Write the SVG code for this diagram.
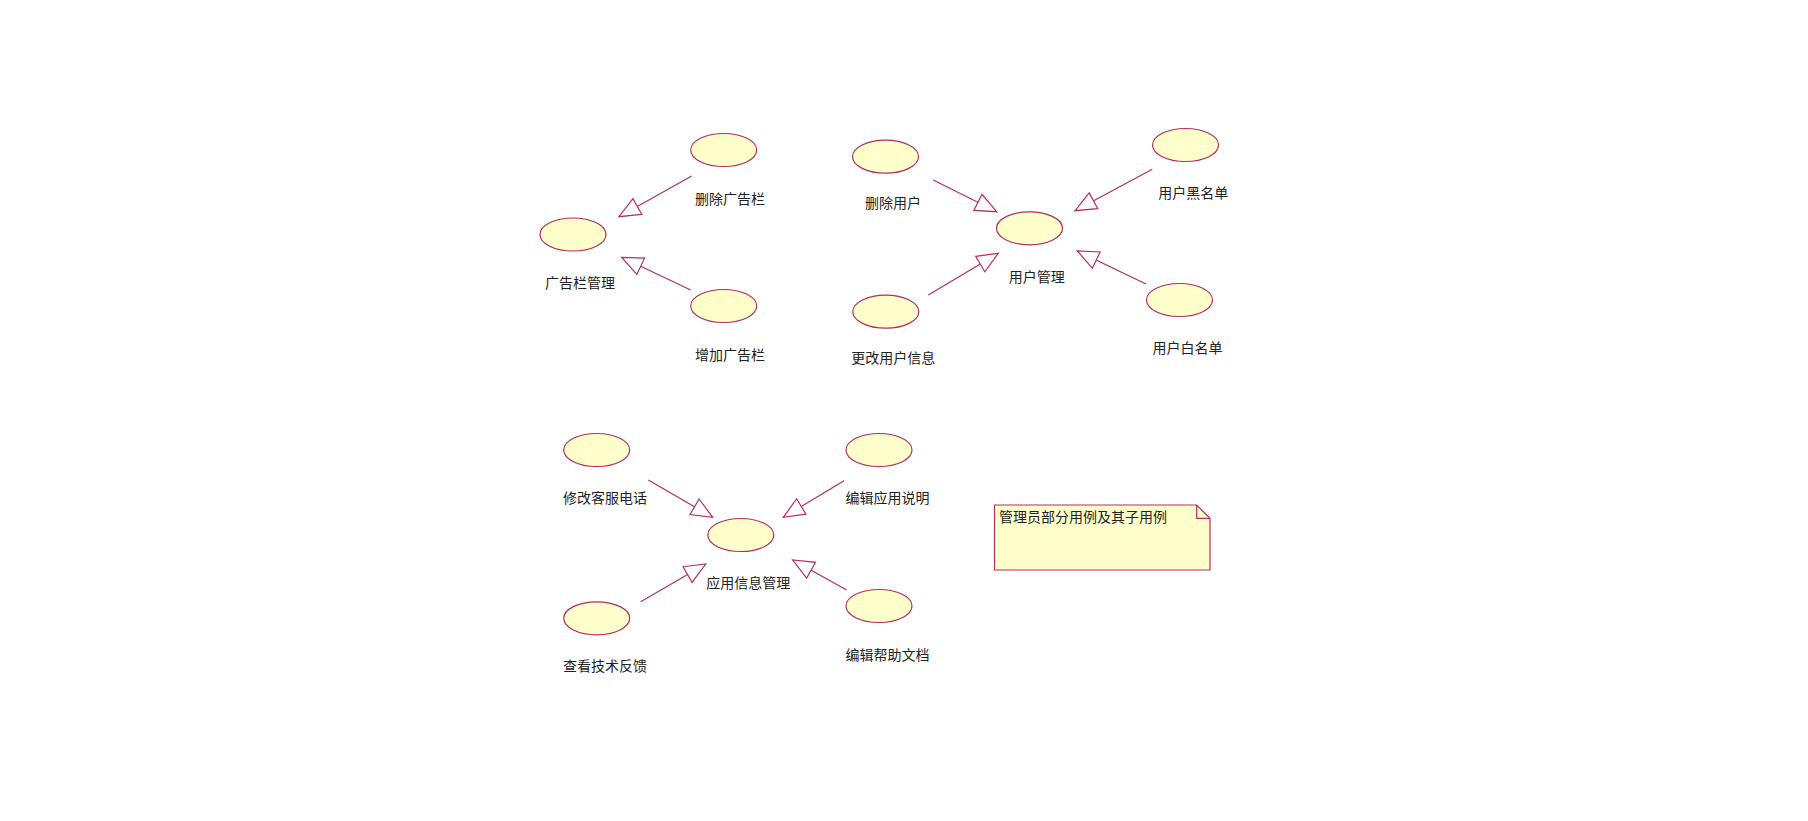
<svg xmlns="http://www.w3.org/2000/svg" width="1808" height="821" viewBox="0 0 1808 821">
<style>
.uc{fill:#FFFFCC;stroke:#B0305F;stroke-width:1.2}
.lbl{font-family:"Noto Sans CJK SC","Noto Sans",sans-serif;font-size:14px;fill:#222;text-anchor:middle}
.edge{stroke:#B0305F;stroke-width:1.2;fill:none;marker-end:url(#tri)}
.note{fill:#FFFFCC;stroke:#B0305F;stroke-width:1.2}
</style>
<defs>
<marker id="tri" markerUnits="userSpaceOnUse" markerWidth="26" markerHeight="22" refX="22" refY="10" orient="auto" overflow="visible">
<path d="M1,1 L22,10 L1,19 Z" fill="#FFFFFF" stroke="#B0305F" stroke-width="1.2"/>
</marker>
</defs>
<rect width="1808" height="821" fill="#FFFFFF"/>
<g id="connectors">
<line class="edge" x1="691.7" y1="176" x2="619" y2="216.7"/>
<line class="edge" x1="690.7" y1="290" x2="621.7" y2="257.3"/>
<line class="edge" x1="933.3" y1="180" x2="996.7" y2="211.7"/>
<line class="edge" x1="928.3" y1="295" x2="998.3" y2="253.3"/>
<line class="edge" x1="1152.3" y1="169.3" x2="1075" y2="210.7"/>
<line class="edge" x1="1146" y1="284" x2="1077.3" y2="251"/>
<line class="edge" x1="648.3" y1="480" x2="712.7" y2="517.3"/>
<line class="edge" x1="844" y1="480.7" x2="783.3" y2="517.3"/>
<line class="edge" x1="640.7" y1="601.7" x2="705.7" y2="564"/>
<line class="edge" x1="846.7" y1="590" x2="792.7" y2="560"/>
</g>
<g id="n_del_ad"><ellipse class="uc" cx="723.7" cy="150" rx="33" ry="16.5"/><text class="lbl" x="730" y="204">删除广告栏</text></g>
<g id="n_ad_mgmt"><ellipse class="uc" cx="573" cy="234.5" rx="33" ry="16.5"/><text class="lbl" x="580" y="288">广告栏管理</text></g>
<g id="n_add_ad"><ellipse class="uc" cx="723.7" cy="306" rx="33" ry="16.5"/><text class="lbl" x="730" y="360">增加广告栏</text></g>
<g id="n_del_user"><ellipse class="uc" cx="885.5" cy="156.7" rx="33" ry="16.5"/><text class="lbl" x="893" y="208">删除用户</text></g>
<g id="n_user_mgmt"><ellipse class="uc" cx="1029.5" cy="228.3" rx="33" ry="16.5"/><text class="lbl" x="1036.7" y="282">用户管理</text></g>
<g id="n_blacklist"><ellipse class="uc" cx="1185.5" cy="145" rx="33" ry="16.5"/><text class="lbl" x="1193.3" y="198">用户黑名单</text></g>
<g id="n_whitelist"><ellipse class="uc" cx="1179.5" cy="300" rx="33" ry="16.5"/><text class="lbl" x="1187.5" y="353">用户白名单</text></g>
<g id="n_edit_user"><ellipse class="uc" cx="885.8" cy="311.7" rx="33" ry="16.5"/><text class="lbl" x="893.3" y="363">更改用户信息</text></g>
<g id="n_phone"><ellipse class="uc" cx="596.7" cy="450" rx="33" ry="16.5"/><text class="lbl" x="605" y="503">修改客服电话</text></g>
<g id="n_app_desc"><ellipse class="uc" cx="879" cy="450" rx="33" ry="16.5"/><text class="lbl" x="887.5" y="503">编辑应用说明</text></g>
<g id="n_app_mgmt"><ellipse class="uc" cx="740.8" cy="535" rx="33" ry="16.5"/><text class="lbl" x="748.3" y="588">应用信息管理</text></g>
<g id="n_feedback"><ellipse class="uc" cx="596.7" cy="618.3" rx="33" ry="16.5"/><text class="lbl" x="605" y="671">查看技术反馈</text></g>
<g id="n_help"><ellipse class="uc" cx="879" cy="606" rx="33" ry="16.5"/><text class="lbl" x="887.5" y="660">编辑帮助文档</text></g>
<g id="note">
<path class="note" d="M994.5,505 L1196.7,505 L1210,518.3 L1210,570 L994.5,570 Z"/>
<path d="M1196.7,505 L1196.7,518.3 L1210,518.3" fill="none" stroke="#B0305F" stroke-width="1.2"/>
<text x="999" y="522" font-family="'Noto Sans CJK SC','Noto Sans',sans-serif" font-size="14" fill="#222">管理员部分用例及其子用例</text>
</g>
</svg>
